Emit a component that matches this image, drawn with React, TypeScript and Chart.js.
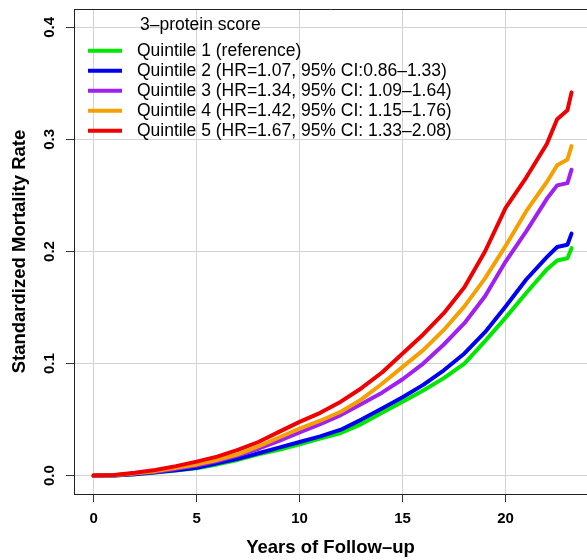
import React, { useEffect, useRef } from 'react';
import { Chart, registerables } from 'chart.js';

Chart.register(...registerables);

const years = [0, 1, 2, 3, 4, 5, 6, 7, 8, 9, 10, 11, 12, 13, 14, 15, 16, 17, 18, 19, 20, 21, 22, 22.5, 23, 23.2];
const quintile1 = [0, 0.0002, 0.0012, 0.0028, 0.0045, 0.0065, 0.010, 0.014, 0.019, 0.023, 0.028, 0.033, 0.038, 0.046, 0.056, 0.066, 0.076, 0.087, 0.100, 0.120, 0.141, 0.163, 0.184, 0.192, 0.194, 0.203];
const quintile2 = [0, 0.0002, 0.0013, 0.003, 0.0048, 0.007, 0.011, 0.015, 0.020, 0.025, 0.030, 0.035, 0.041, 0.050, 0.060, 0.070, 0.081, 0.094, 0.109, 0.128, 0.151, 0.175, 0.195, 0.204, 0.206, 0.216];
const quintile3 = [0, 0.0003, 0.0018, 0.0035, 0.006, 0.009, 0.013, 0.018, 0.024, 0.031, 0.0385, 0.046, 0.054, 0.064, 0.074, 0.086, 0.100, 0.117, 0.136, 0.160, 0.191, 0.218, 0.247, 0.259, 0.261, 0.273];
const quintile4 = [0, 0.0003, 0.002, 0.004, 0.007, 0.010, 0.014, 0.019, 0.026, 0.034, 0.042, 0.049, 0.057, 0.068, 0.082, 0.097, 0.112, 0.130, 0.151, 0.176, 0.205, 0.236, 0.262, 0.277, 0.282, 0.294];
const quintile5 = [0, 0.0005, 0.0025, 0.005, 0.0085, 0.0125, 0.017, 0.023, 0.030, 0.039, 0.048, 0.056, 0.066, 0.078, 0.092, 0.109, 0.126, 0.145, 0.168, 0.200, 0.239, 0.266, 0.296, 0.318, 0.326, 0.342];

const seriesLabels = [
  'Quintile 1 (reference)',
  'Quintile 2 (HR=1.07, 95% CI:0.86–1.33)',
  'Quintile 3 (HR=1.34, 95% CI: 1.09–1.64)',
  'Quintile 4 (HR=1.42, 95% CI: 1.15–1.76)',
  'Quintile 5 (HR=1.67, 95% CI: 1.33–2.08)',
];
const seriesColors = ['#00E800', '#0000F0', '#A020F0', '#F5A000', '#F00000'];
const seriesValues = [quintile1, quintile2, quintile3, quintile4, quintile5];

const xTicks = [0, 5, 10, 15, 20];
const yTicks = [0, 0.1, 0.2, 0.3, 0.4];
const legendTitle = '3–protein score';
const xTitle = 'Years of Follow–up';
const yTitle = 'Standardized Mortality Rate';

const FONT = '"Liberation Sans", Arial, Helvetica, sans-serif';

const decorPlugin = {
  id: 'decor',
  afterDraw(chart: any) {
    const { ctx, chartArea, scales } = chart;
    ctx.save();
    // top border of the box
    ctx.strokeStyle = '#222';
    ctx.lineWidth = 1;
    ctx.beginPath();
    ctx.moveTo(chartArea.left, Math.round(chartArea.top) + 0.5);
    ctx.lineTo(chartArea.right, Math.round(chartArea.top) + 0.5);
    ctx.stroke();

    // rotated y tick labels
    ctx.fillStyle = '#000';
    ctx.font = `bold 15px ${FONT}`;
    ctx.textAlign = 'center';
    ctx.textBaseline = 'middle';
    yTicks.forEach((v) => {
      const py = scales.y.getPixelForValue(v);
      ctx.save();
      ctx.translate(50, py);
      ctx.rotate(-Math.PI / 2);
      ctx.fillText(v.toFixed(1), 0, 0);
      ctx.restore();
    });

    // legend
    ctx.textAlign = 'left';
    ctx.font = `17.5px ${FONT}`;
    ctx.fillText(legendTitle, 140, 25);
    seriesLabels.forEach((lab, i) => {
      const y = 50.7 + i * 20;
      ctx.strokeStyle = seriesColors[i];
      ctx.lineWidth = 4;
      ctx.beginPath();
      ctx.moveTo(88, y);
      ctx.lineTo(122, y);
      ctx.stroke();
      ctx.fillStyle = '#000';
      ctx.fillText(lab, 137, y);
    });
    ctx.restore();
  },
};

export default function App() {
  const ref = useRef<HTMLCanvasElement>(null);
  useEffect(() => {
    document.body.style.margin = '0';
    const canvas = ref.current;
    if (!canvas) return;
    const datasets = seriesValues.map((vals, i) => ({
      label: seriesLabels[i],
      data: years.map((x, j) => ({ x, y: vals[j] })),
      borderColor: seriesColors[i],
      backgroundColor: seriesColors[i],
      borderWidth: 4,
      pointRadius: 0,
      tension: 0,
      fill: false,
      borderJoinStyle: 'round' as const,
      borderCapStyle: 'round' as const,
      order: 4 - i,
    }));
    const chart = new Chart(canvas, {
      type: 'line',
      data: { datasets },
      plugins: [decorPlugin],
      options: {
        animation: false,
        responsive: false,
        devicePixelRatio: 1,
        layout: { padding: { left: 0, right: 0, top: 9, bottom: 0 } },
        plugins: { legend: { display: false }, tooltip: { enabled: false } },
        font: { family: FONT },
        scales: {
          x: {
            type: 'linear',
            min: -0.95,
            max: 23.95,
            afterBuildTicks: (s: any) => { s.ticks = xTicks.map((v) => ({ value: v })); },
            afterFit: (s: any) => { s.height = 66; },
            ticks: {
              autoSkip: false,
              maxRotation: 0,
              minRotation: 0,
              padding: 8,
              color: '#000',
              font: { family: FONT, size: 15, weight: 'bold' },
              callback: (v: any) => String(v),
            },
            grid: { color: '#D3D3D3', lineWidth: 1, tickColor: '#333', tickLength: 8, drawTicks: true },
            border: { display: true, color: '#222', width: 1 },
            title: {
              display: true,
              text: xTitle,
              color: '#000',
              font: { family: FONT, size: 18.5, weight: 'bold' },
              padding: { top: 0, bottom: 1 },
            },
          },
          y: {
            type: 'linear',
            min: -0.0164,
            max: 0.4164,
            afterBuildTicks: (s: any) => { s.ticks = yTicks.map((v) => ({ value: v })); },
            afterFit: (s: any) => { s.width = 74; },
            ticks: { display: false },
            grid: { color: '#D3D3D3', lineWidth: 1, tickColor: '#333', tickLength: 8, drawTicks: true },
            border: { display: true, color: '#222', width: 1 },
            title: {
              display: true,
              text: yTitle,
              color: '#000',
              font: { family: FONT, size: 18.5, weight: 'bold' },
              padding: { top: 8.5, bottom: 0 },
            },
          },
        },
      },
    });
    return () => chart.destroy();
  }, []);
  return (
    <div style={{ width: 587, height: 560, background: '#fff' }}>
      <canvas ref={ref} width={587} height={560} style={{ width: 587, height: 560, display: 'block' }} />
    </div>
  );
}
